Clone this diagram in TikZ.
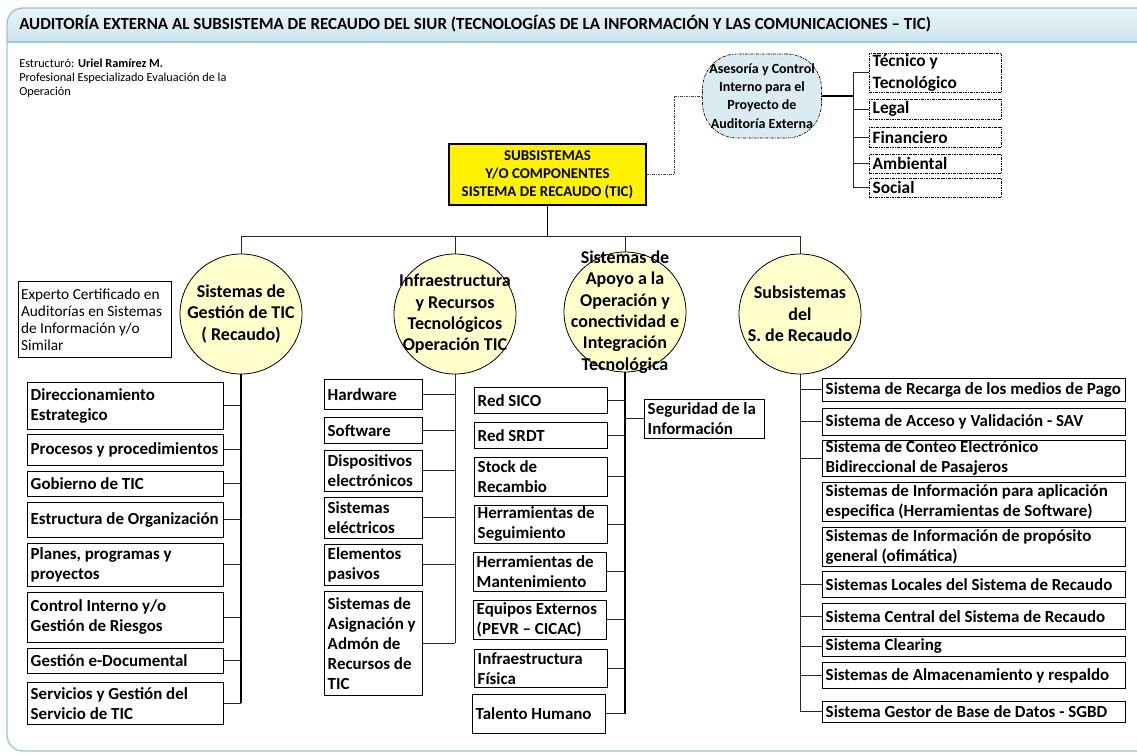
\documentclass[tikz,border=0pt]{standalone}
\usepackage{fontspec}
\setmainfont{Carlito}
\usetikzlibrary{positioning,shapes.geometric}
\definecolor{hdrtop}{RGB}{232,243,248}
\definecolor{hdrbot}{RGB}{206,229,239}
\definecolor{frameblue}{RGB}{150,200,222}
\definecolor{circyellow}{RGB}{255,255,204}
\definecolor{advblue}{RGB}{218,236,242}
\hyphenpenalty=10000

\tikzset{
  plainspace/.style={execute at begin node={\spaceskip=0pt\xspaceskip=0pt\rightskip=0pt plus 1fil minus 30pt}},
  itembox/.style={draw, line width=0.6pt, fill=white, anchor=north west, align=flush left, plainspace, inner xsep=2.5pt, inner ysep=0pt, font=\bfseries\fontsize{12.7}{15}\selectfont},
  advbox/.style={draw, line width=0.5pt, dash pattern=on 2pt off 0.8pt on 0.6pt off 0.8pt, anchor=north west, align=flush left, plainspace, inner xsep=2.5pt, inner ysep=0pt, text width=94pt, font=\bfseries\fontsize{13}{16}\selectfont},
  circ/.style={ellipse, draw, line width=0.6pt, fill=circyellow, minimum width=91.5pt, minimum height=90pt, inner sep=0pt},
  circtext/.style={align=center, inner sep=0pt, font=\bfseries\fontsize{13.5}{16}\selectfont},
  trunk/.style={line width=1.2pt},
  link/.style={line width=0.7pt, black!85},
  dotlink/.style={line width=0.6pt, black!70, dash pattern=on 2pt off 0.8pt on 0.6pt off 0.8pt}
}

\begin{document}
\begin{tikzpicture}[x=0.75pt, y=-0.75pt]
\useasboundingbox (0,0) rectangle (1137,754);

\begin{scope}
  \clip (0,0) rectangle (1137,754);
  \shade[top color=hdrtop, bottom color=hdrbot] (7,42) {[rounded corners=10] -- (7,8) -- (1160,8)} -- (1160,42) -- cycle;
  \draw[frameblue, line width=1pt, rounded corners=12] (7,8) rectangle (1160,751);
  \draw[frameblue, line width=1pt] (7,42) -- (1160,42);
\end{scope}

\node at (19,29.5) [anchor=base west, inner sep=0pt, font=\bfseries\fontsize{12.7}{14}\selectfont] (title) {AUDITORÍA EXTERNA AL SUBSISTEMA DE RECAUDO DEL SIUR (TECNOLOGÍAS DE LA INFORMACIÓN Y LAS COMUNICACIONES – TIC)};
\node at (19,59) [anchor=north west, inner sep=0pt, align=left, plainspace, font=\fontsize{9.2}{10.2}\selectfont] (author) {Estructuró: \textbf{Uriel Ramírez M.}\\Profesional Especializado Evaluación de la\\Operación};

\node at (547.5,174.5) [draw, line width=0.8pt, fill=yellow, minimum width=147.75pt, minimum height=45.75pt, align=center, inner sep=0pt, font=\bfseries\fontsize{11.2}{13.7}\selectfont] (core) {SUBSISTEMAS\\Y/O COMPONENTES\\SISTEMA DE RECAUDO (TIC)};

\node at (762,96) [draw, line width=0.5pt, dash pattern=on 2pt off 0.8pt on 0.6pt off 0.8pt, fill=advblue, rounded corners=26pt, minimum width=89.25pt, minimum height=63pt, align=center, inner sep=0pt, font=\bfseries\fontsize{10.5}{13.7}\selectfont] (adv) {Asesoría y Control\\Interno para el\\Proyecto de\\Auditoría Externa};
\node at (869,53) [advbox, minimum height=29.25pt] (tec) {Técnico y\\Tecnológico};
\node at (869,99) [advbox, minimum height=15pt] (leg) {Legal};
\node at (869,127) [advbox, minimum height=15pt] (fin) {Financiero};
\node at (869,154) [advbox, minimum height=14.25pt] (amb) {Ambiental};
\node at (869,178) [advbox, minimum height=14.25pt] (soc) {Social};
\coordinate (advbus) at (853,96);
\draw[dotlink] (core.east) -| (674,96) -- (adv.west);
\draw[trunk] (adv.east) -- (advbus);
\draw[link] (advbus |- tec.west) -- (advbus |- soc.west);
\foreach \n in {tec,leg,fin,amb,soc}
  \draw[link] (advbus |- \n.west) -- (\n.west);

\node at (241,314) [circ] (c1) {};
\node at (c1) [circtext] (c1t) {Sistemas de\\Gestión de TIC\\( Recaudo)};
\node at (455,314) [circ] (c2) {};
\node at (c2) [circtext] (c2t) {Infraestructura\\y Recursos\\Tecnológicos\\Operación TIC};
\node at (625,312) [circ] (c3) {};
\node at (c3) [circtext] (c3t) {Sistemas de\\Apoyo a la\\Operación y\\conectividad e\\Integración\\Tecnológica};
\node at (800,314) [circ] (c4) {};
\node at (c4) [circtext] (c4t) {Subsistemas\\del\\S. de Recaudo};

\coordinate (bus) at (547.5,236);
\draw[trunk] (core.south) -- (bus);
\draw[link] (c1.north) -- (c1.north |- bus) -- (c4.north |- bus) -- (c4.north);
\draw[link] (c2.north) -- (c2.north |- bus);
\draw[link] (c3.north) -- (c3.north |- bus);

\node at (18,281) [draw, line width=0.6pt, anchor=north west, align=flush left, plainspace, inner xsep=2pt, inner ysep=0pt, text width=110.75pt, minimum height=57pt, font=\fontsize{11.5}{12.75}\selectfont] (expert) {Experto Certificado en\\Auditorías en Sistemas\\de Información y/o\\Similar};

\node at (27,382) [itembox, text width=142pt, minimum height=35.25pt] (dir) {Direccionamiento\\Estrategico};
\node at (27,434) [itembox, text width=142pt, minimum height=23.25pt] (pro) {Procesos y procedimientos};
\node at (27,471) [itembox, text width=142pt, minimum height=18.75pt] (gob) {Gobierno de TIC};
\node at (27,502) [itembox, text width=142pt, minimum height=26.25pt] (org) {Estructura de Organización};
\node at (27,543) [itembox, text width=142pt, minimum height=32.25pt] (pla) {Planes, programas y\\proyectos};
\node at (27,592) [itembox, text width=142pt, minimum height=37.5pt] (ctl) {Control Interno y/o\\Gestión de Riesgos};
\node at (27,648) [itembox, text width=142pt, minimum height=18.75pt] (doc) {Gestión e-Documental};
\node at (27,682) [itembox, text width=142pt, minimum height=31.5pt] (srv) {Servicios y Gestión del\\Servicio de TIC};
\draw[trunk] (c1.south) -- (c1.south |- srv.east);
\foreach \n in {dir,pro,gob,org,pla,ctl,doc,srv}
  \draw[link] (\n.east) -- (\n.east -| c1.south);

\node at (324,379) [itembox, text width=68.5pt, minimum height=22.5pt] (hw) {Hardware};
\node at (324,417) [itembox, text width=68.5pt, minimum height=19.5pt] (sw) {Software};
\node at (324,450) [itembox, text width=68.5pt, minimum height=30.75pt] (dev) {Dispositivos\\electrónicos};
\node at (324,497) [itembox, text width=68.5pt, minimum height=30.75pt] (elc) {Sistemas\\eléctricos};
\node at (324,544) [itembox, text width=68.5pt, minimum height=30.75pt] (pas) {Elementos\\pasivos};
\node at (324,591) [itembox, text width=68.5pt, minimum height=78pt] (asg) {Sistemas de\\Asignación y\\Admón de\\Recursos de\\TIC};
\draw[link] (c2.south) -- (c2.south |- asg.east);
\foreach \n in {hw,sw,dev,elc,pas,asg}
  \draw[link] (\n.east) -- (\n.east -| c2.south);

\node at (474,387) [itembox, text width=94.75pt, minimum height=19.5pt] (sico) {Red SICO};
\node at (474,422) [itembox, text width=94.75pt, minimum height=19.5pt] (srdt) {Red SRDT};
\node at (474,457) [itembox, text width=94.75pt, minimum height=29.25pt] (stk) {Stock de\\Recambio};
\node at (474,505) [itembox, text width=94.75pt, minimum height=28.5pt] (sgt) {Herramientas de\\Seguimiento};
\node at (473,552) [itembox, text width=94.75pt, minimum height=29.25pt] (mnt) {Herramientas de\\Mantenimiento};
\node at (473,600) [itembox, text width=94.75pt, minimum height=29.25pt] (ext) {Equipos Externos\\(PEVR – CICAC)};
\node at (474,649) [itembox, text width=94.75pt, minimum height=28.5pt] (fis) {Infraestructura\\Física};
\node at (472,694) [itembox, text width=94.75pt, minimum height=29.25pt] (tal) {Talento Humano};
\node at (644,399) [itembox, text width=85pt, minimum height=29.25pt] (sec) {Seguridad de la\\Información};
\draw[trunk] (c3.south) -- (c3.south |- tal.east);
\foreach \n in {sico,srdt,stk,sgt,mnt,ext,fis,tal}
  \draw[link] (\n.east) -- (\n.east -| c3.south);
\draw[link] (c3.south |- sec.west) -- (sec.west);

\node at (822,378) [itembox, text width=222.25pt, minimum height=17.25pt] (rec) {Sistema de Recarga de los medios de Pago};
\node at (822,408) [itembox, text width=222.25pt, minimum height=20.25pt] (acc) {Sistema de Acceso y Validación - SAV};
\node at (822,440) [itembox, text width=222.25pt, minimum height=27pt] (cnt) {Sistema de Conteo Electrónico\\Bidireccional de Pasajeros};
\node at (822,482) [itembox, text width=222.25pt, minimum height=29.25pt] (apl) {Sistemas de Información para aplicación\\especifica (Herramientas de Software)};
\node at (822,527) [itembox, text width=222.25pt, minimum height=29.25pt] (gen) {Sistemas de Información de propósito\\general (ofimática)};
\node at (822,571) [itembox, text width=222.25pt, minimum height=19.5pt] (loc) {Sistemas Locales del Sistema de Recaudo};
\node at (822,603) [itembox, text width=222.25pt, minimum height=19.5pt] (cen) {Sistema Central del Sistema de Recaudo};
\node at (822,636) [itembox, text width=222.25pt, minimum height=15pt] (clr) {Sistema Clearing};
\node at (822,662) [itembox, text width=222.25pt, minimum height=19.5pt] (alm) {Sistemas de Almacenamiento y respaldo};
\node at (822,701) [itembox, text width=222.25pt, minimum height=15.75pt] (dbm) {Sistema Gestor de Base de Datos - SGBD};
\draw[link] (c4.south) -- (c4.south |- dbm.west);
\foreach \n in {rec,acc,cnt,loc,cen,clr,alm,dbm}
  \draw[link] (c4.south |- \n.west) -- (\n.west);
\end{tikzpicture}
\end{document}
